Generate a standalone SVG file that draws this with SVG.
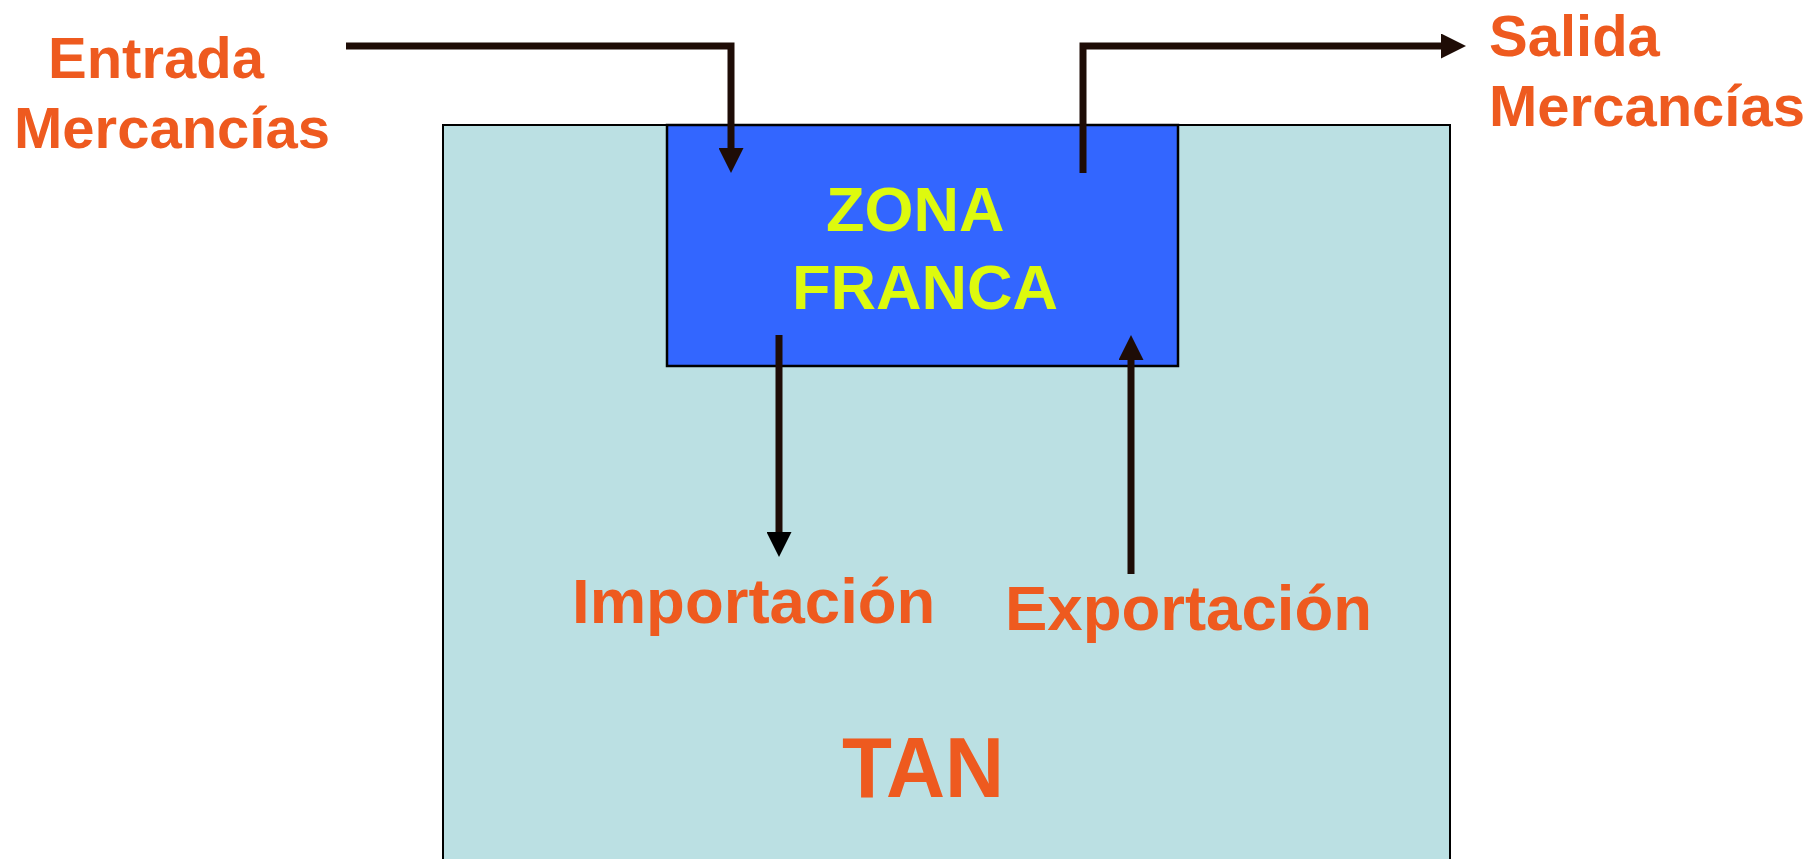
<svg xmlns="http://www.w3.org/2000/svg" width="1810" height="859" viewBox="0 0 1810 859">
  <style>
    .lbl { font-family: "Liberation Sans", Arial, sans-serif; font-weight: bold; fill: #EE5A1F; }
    .zf { font-family: "Liberation Sans", Arial, sans-serif; font-weight: bold; fill: #DDFA0E; font-size: 63px; }
    .conn { stroke: #1E0C06; stroke-width: 7; fill: none; }
  </style>
  <defs>
    <marker id="ah" viewBox="0 0 10 10" refX="0" refY="5" markerWidth="25" markerHeight="25" markerUnits="userSpaceOnUse" orient="auto">
      <path d="M0,0 L10,5 L0,10 z" fill="#1E0C06"/>
    </marker>
    <marker id="ahk" viewBox="0 0 10 10" refX="0" refY="5" markerWidth="25" markerHeight="25" markerUnits="userSpaceOnUse" orient="auto">
      <path d="M0,0 L10,5 L0,10 z" fill="#000"/>
    </marker>
  </defs>
  <rect width="1810" height="859" fill="#FFFFFF"/>
  <g id="tan">
    <rect x="443" y="125" width="1007" height="740" fill="#BBE0E3" stroke="#000" stroke-width="2"/>
    <text class="lbl" x="842" y="797" font-size="85" textLength="162" lengthAdjust="spacingAndGlyphs">TAN</text>
  </g>
  <g id="zona-franca">
    <rect x="667" y="125" width="511" height="241" fill="#3366FF" stroke="#000" stroke-width="2.5"/>
    <text class="zf" x="826" y="231">ZONA</text>
    <text class="zf" x="792" y="309">FRANCA</text>
  </g>
  <g id="entrada">
    <text class="lbl" x="48" y="78" font-size="58">Entrada</text>
    <text class="lbl" x="14" y="148" font-size="58">Mercancías</text>
  </g>
  <g id="salida">
    <text class="lbl" x="1489" y="56" font-size="58">Salida</text>
    <text class="lbl" x="1489" y="126" font-size="58">Mercancías</text>
  </g>
  <g id="importacion">
    <text class="lbl" x="572" y="623" font-size="63.5">Importación</text>
  </g>
  <g id="exportacion">
    <text class="lbl" x="1005" y="630" font-size="63.5">Exportación</text>
  </g>
  <g id="connectors">
    <path class="conn" d="M346,46 H731 V148" marker-end="url(#ah)"/>
    <path class="conn" d="M1083,173 V46 H1441" marker-end="url(#ah)"/>
    <path class="conn" d="M779,335 V532" stroke="#000" marker-end="url(#ahk)"/>
    <path class="conn" d="M1131,574 V360" marker-end="url(#ah)"/>
  </g>
</svg>
